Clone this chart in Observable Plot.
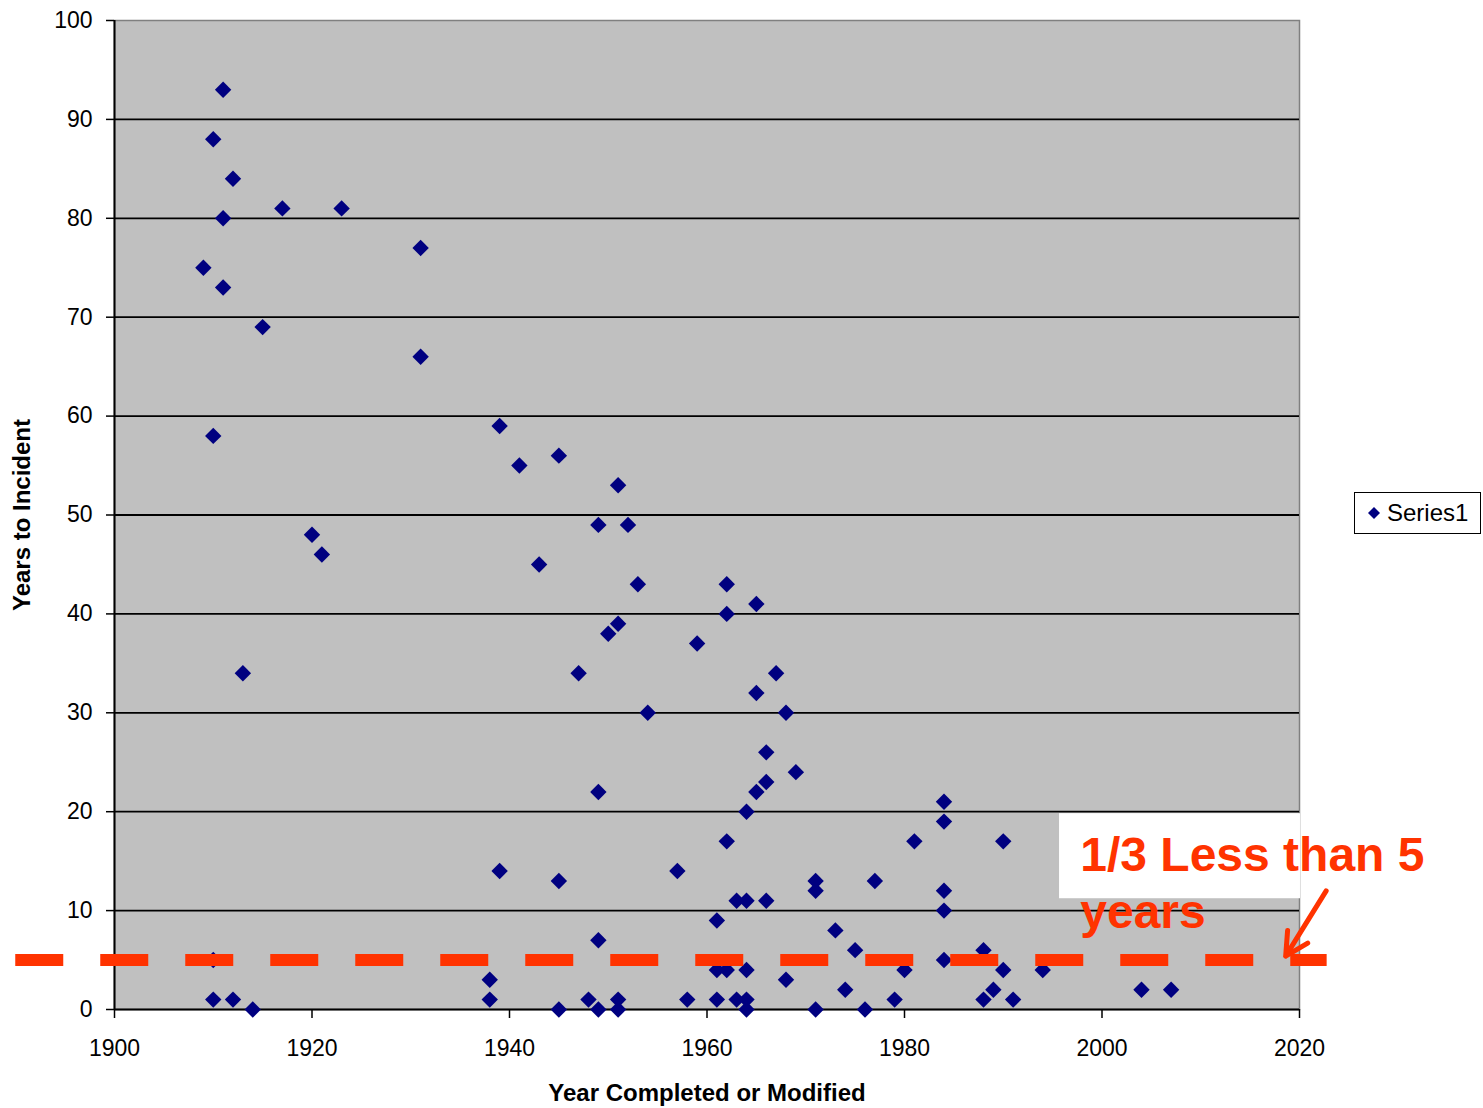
<!DOCTYPE html>
<html>
<head>
<meta charset="utf-8">
<script src="https://cdn.jsdelivr.net/npm/d3@7"></script>
<script src="https://cdn.jsdelivr.net/npm/@observablehq/plot@0.6"></script>
<style>
  html, body { margin: 0; padding: 0; background: #fff; }
  #wrap { position: relative; width: 1483px; height: 1108px; font-family: "Liberation Sans", Arial, sans-serif; }
  #legend {
    position: absolute; left: 1354px; top: 492px; width: 125px; height: 40px;
    border: 1.5px solid #000; background: #fff; box-sizing: content-box;
    display: flex; align-items: center; font-size: 24px; color: #000;
  }
  #legend svg { margin-left: 12px; margin-right: 6px; }
</style>
</head>
<body>
<div id="wrap">
  <div id="chart"></div>
  <div id="legend">
    <svg width="14" height="14" viewBox="-7 -7 14 14"><path d="M0,-6L6,0L0,6L-6,0Z" fill="#000080"></path></svg>
    <span>Series1</span>
  </div>
</div>
<script>
// Year each structure was completed or modified
const yearCompleted = [
  1911, 1910, 1912, 1911, 1917, 1923, 1909, 1911, 1915, 1931, 1931, 1910, 1920, 1921, 1913,
  1910, 1910, 1912, 1914,
  1939, 1941, 1945, 1943, 1951, 1949, 1952, 1953, 1950, 1951, 1947, 1954, 1949, 1939, 1945,
  1949, 1938, 1938, 1945, 1948, 1949, 1951, 1951, 1958, 1957, 1959,
  1962, 1962, 1965, 1967, 1965, 1968, 1966, 1966, 1965, 1964, 1969, 1962, 1961, 1963, 1964,
  1966, 1961, 1962, 1964, 1961, 1963, 1964, 1964, 1968,
  1971, 1971, 1973, 1971, 1974, 1975, 1976, 1977, 1979, 1980, 1981, 1984, 1984, 1984, 1984,
  1984, 1988, 1990, 1990, 1988, 1989, 1991, 1994, 2004, 2007
];
// Years elapsed until the incident
const yearsToIncident = [
  93, 88, 84, 80, 81, 81, 75, 73, 69, 77, 66, 58, 48, 46, 34,
  5, 1, 1, 0,
  59, 55, 56, 45, 53, 49, 49, 43, 38, 39, 34, 30, 22, 14, 13,
  7, 3, 1, 0, 1, 0, 1, 0, 1, 14, 37,
  43, 40, 41, 34, 32, 30, 26, 23, 22, 20, 24, 17, 9, 11, 11,
  11, 4, 4, 4, 1, 1, 1, 0, 3,
  13, 12, 8, 0, 2, 6, 0, 13, 1, 4, 17, 21, 19, 12, 10,
  5, 6, 17, 4, 1, 2, 1, 4, 2, 2
];

const xTicks = [1900, 1920, 1940, 1960, 1980, 2000, 2020];
const yTicks = [0, 10, 20, 30, 40, 50, 60, 70, 80, 90, 100];
const gridTicks = [10, 20, 30, 40, 50, 60, 70, 80, 90];

// Threshold line and its callout
const threshold = 5;
const thresholdSpan = [{y: threshold, x1: 1890, x2: 2022.8}];
const calloutBox = [{x1: 1995.7, x2: 2020.1, y1: 11.2, y2: 19.8}];
const calloutText = [{x: 1997.8, y: 18.1, label: "1/3 Less than 5\nyears"}];
const calloutArrow = [{x1: 2022.7, y1: 12.0, x2: 2018.6, y2: 5.4}];

const points = yearCompleted.map((x, i) => ({x, y: yearsToIncident[i]}));

const red = "#FF3300";

const chart = Plot.plot({
  width: 1483,
  height: 1108,
  marginLeft: 114,
  marginRight: 184,
  marginTop: 20,
  marginBottom: 99,
  style: {fontFamily: "Liberation Sans, Arial, sans-serif", fontSize: "23px", color: "#000", background: "transparent"},
  x: {domain: [1900, 2020], axis: null},
  y: {domain: [0, 100], axis: null},
  marks: [
    Plot.frame({fill: "#C0C0C0", stroke: "#808080", strokeWidth: 1.5}),
    Plot.gridY(gridTicks, {stroke: "#000", strokeOpacity: 1, strokeWidth: 1.8}),
    Plot.ruleX([1900], {stroke: "#000", strokeWidth: 2}),
    Plot.ruleY([0], {stroke: "#000", strokeWidth: 2}),
    Plot.axisY({ticks: yTicks, tickSize: 8, tickPadding: 14, tickFormat: "d", fontSize: 23, label: null, stroke: "#000", strokeWidth: 1.5}),
    Plot.axisX({ticks: xTicks, tickSize: 9, tickPadding: 21, tickFormat: "d", fontSize: 23, label: null, stroke: "#000", strokeWidth: 1.5}),
    Plot.text(["Years to Incident"], {frameAnchor: "left", dx: -92, rotate: -90, textAnchor: "middle", lineAnchor: "middle", fontSize: 24, fontWeight: "bold", fill: "#000"}),
    Plot.text(["Year Completed or Modified"], {frameAnchor: "bottom", dy: 84, lineAnchor: "middle", fontSize: 24, fontWeight: "bold", fill: "#000"}),
    Plot.dot(points, {x: "x", y: "y", symbol: "diamond2", r: 7.4, fill: "#000080", stroke: null}),
    Plot.rect(calloutBox, {x1: "x1", x2: "x2", y1: "y1", y2: "y2", fill: "#fff"}),
    Plot.ruleY(thresholdSpan, {y: "y", x1: "x1", x2: "x2", stroke: red, strokeWidth: 12, strokeDasharray: "48,37"}),
    Plot.text(calloutText, {x: "x", y: "y", text: "label", textAnchor: "start", lineAnchor: "top", lineHeight: 1.19, fontSize: 48, fontWeight: "bold", fill: red}),
    Plot.arrow(calloutArrow, {x1: "x1", y1: "y1", x2: "x2", y2: "y2", stroke: red, strokeWidth: 5, headAngle: 55})
  ]
});

document.getElementById("chart").appendChild(chart);
</script>
</body>
</html>
